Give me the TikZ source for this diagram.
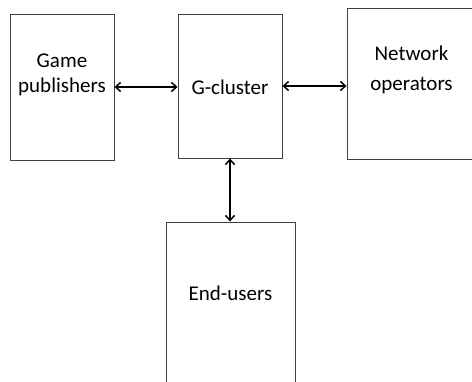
\documentclass[tikz,border=0pt]{standalone}
\usepackage{fontspec}
\setmainfont{Carlito}
\usetikzlibrary{arrows.meta}

\tikzset{
  box/.style={draw=black!75, line width=0.9pt, fill=white},
  txt/.style={align=center, font=\fontsize{21}{25}\selectfont, inner sep=0pt},
  link/.style={{Straight Barb[length=5pt,width=9pt]}-{Straight Barb[length=5pt,width=9pt]}, line width=1.5pt},
}

\begin{document}
\begin{tikzpicture}[x=1pt,y=1pt]
              \clip (0,0) rectangle (472,382);
              \fill[white] (0,0) rectangle (472,382);

              \node[box, minimum width=104, minimum height=146] (gp) at (62,295) {};
              \node[box, minimum width=104, minimum height=144] (gc) at (230,296) {};
              \node[box, minimum width=140, minimum height=151] (no) at (417,298.5) {};
              \node[box, minimum width=129, minimum height=178] (eu) at (230.5,71) {};

              \node[txt] (gp-text) at (62,307.5) {Game\\publishers};
              \node[txt] (gc-text) at (230,295) {G-cluster};
              \node[txt] (no-text) at (411.5,312) {Network\\[5pt]operators};
              \node[txt] (eu-text) at (230.5,89) {End-users};

              \begin{scope}[link]
                  \draw (gp.east) -- (gp.east -| gc.west);
                  \draw (gc.east) -- (gc.east -| no.west);
                  \draw (gc.south) -- (gc.south |- eu.north);
              \end{scope}

          \end{tikzpicture}
\end{document}
